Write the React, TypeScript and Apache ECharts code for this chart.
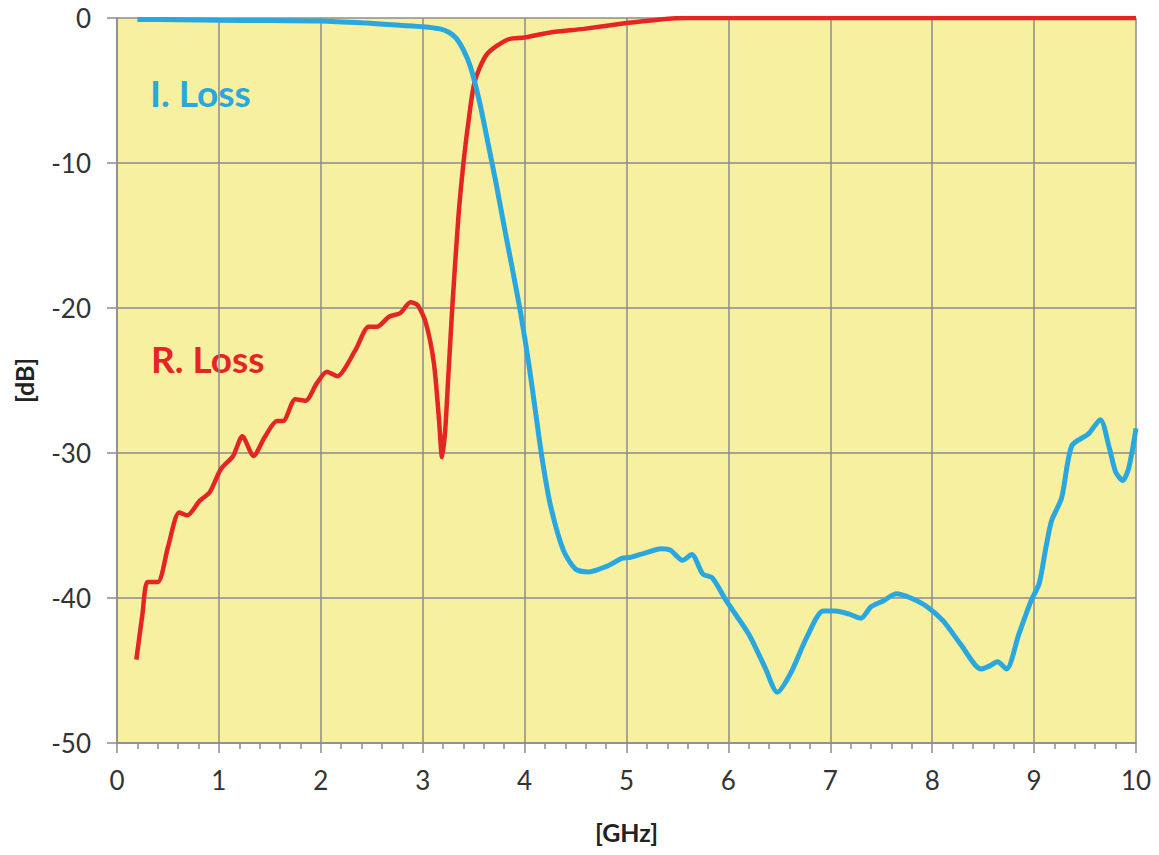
import React, { useEffect, useRef } from "react";
import * as echarts from "echarts";

// Insertion loss (blue)
const iFreq = [0.2, 0.6, 1.0, 1.5, 2.0, 2.45, 2.78, 3.0, 3.17, 3.26, 3.33, 3.4, 3.47, 3.56, 3.64, 3.72, 3.8, 3.88, 3.96, 4.04, 4.11, 4.17, 4.25, 4.38, 4.5, 4.63, 4.81, 4.96, 5.04, 5.18, 5.34, 5.43, 5.55, 5.64, 5.75, 5.84, 5.98, 6.2, 6.36, 6.48, 6.61, 6.77, 6.93, 7.05, 7.18, 7.3, 7.4, 7.52, 7.65, 7.79, 7.95, 8.11, 8.28, 8.48, 8.56, 8.64, 8.73, 8.85, 8.97, 9.05, 9.11, 9.17, 9.27, 9.37, 9.53, 9.65, 9.74, 9.8, 9.87, 9.93, 10.0];
const iLoss = [-0.1, -0.12, -0.15, -0.18, -0.2, -0.35, -0.5, -0.6, -0.75, -1.0, -1.4, -2.2, -3.4, -5.85, -8.6, -11.4, -14.4, -17.3, -20.3, -23.8, -27.3, -30.3, -33.5, -36.7, -38.0, -38.2, -37.8, -37.25, -37.2, -36.9, -36.6, -36.7, -37.4, -37.0, -38.35, -38.6, -40.2, -42.5, -44.8, -46.5, -45.2, -42.7, -40.9, -40.9, -41.1, -41.4, -40.6, -40.2, -39.7, -40.0, -40.6, -41.6, -43.2, -44.9, -44.7, -44.4, -44.9, -42.5, -40.2, -39.0, -36.75, -34.7, -33.1, -29.5, -28.7, -27.7, -29.7, -31.3, -31.9, -31.0, -28.3];

// Return loss (red)
const rFreq = [0.19, 0.25, 0.3, 0.4, 0.5, 0.61, 0.69, 0.81, 0.91, 1.02, 1.14, 1.23, 1.34, 1.45, 1.57, 1.63, 1.75, 1.85, 1.96, 2.06, 2.16, 2.34, 2.47, 2.55, 2.67, 2.78, 2.88, 2.95, 3.03, 3.11, 3.16, 3.19, 3.22, 3.25, 3.29, 3.35, 3.4, 3.45, 3.51, 3.63, 3.83, 4.0, 4.25, 4.58, 5.0, 5.33, 5.6, 6.0, 7.0, 8.0, 9.0, 10.0];
const rLoss = [-44.25, -41.1, -38.9, -38.9, -36.5, -34.1, -34.3, -33.3, -32.7, -31.1, -30.2, -28.85, -30.2, -28.9, -27.8, -27.8, -26.3, -26.4, -25.2, -24.4, -24.7, -22.9, -21.3, -21.3, -20.6, -20.35, -19.6, -19.8, -21.0, -23.8, -27.7, -30.3, -28.5, -24.9, -20.0, -13.75, -10.0, -7.1, -4.4, -2.5, -1.5, -1.35, -1.0, -0.75, -0.35, -0.1, 0, 0, 0, 0, 0, 0];

const xTicks = [0, 10, 1];
const yTicks = [-50, 0, 10];

const FONT = "Lato";
const GRID_COLOR = "#8c8c8c";

export default function App() {
  const ref = useRef<HTMLDivElement>(null);
  useEffect(() => {
    if (!ref.current) return;
    const chart = echarts.init(ref.current, undefined, { renderer: "svg" });
    const iData = iFreq.map((f, i) => [f, iLoss[i]]);
    const rData = rFreq.map((f, i) => [f, rLoss[i]]);
    chart.setOption({
      animation: false,
      backgroundColor: "#ffffff",
      textStyle: { fontFamily: FONT },
      grid: {
        left: 117,
        right: 23,
        top: 18,
        bottom: 112,
        show: true,
        backgroundColor: "#F7F0A0",
        borderWidth: 0,
      },
      xAxis: {
        type: "value",
        min: xTicks[0],
        max: xTicks[1],
        interval: xTicks[2],
        name: "[GHz]",
        nameLocation: "middle",
        nameGap: 76,
        nameTextStyle: { fontFamily: FONT, fontSize: 25, fontWeight: "bold", color: "#222" },
        axisLine: { show: true, onZero: false, lineStyle: { color: GRID_COLOR, width: 1.5 } },
        axisTick: { show: true, length: 10, lineStyle: { color: GRID_COLOR, width: 1.5 } },
        minorTick: { show: true, splitNumber: 5, length: 6, lineStyle: { color: GRID_COLOR, width: 1.5 } },
        axisLabel: { fontFamily: FONT, fontSize: 26, color: "#333", margin: 24 },
        splitLine: { show: true, lineStyle: { color: GRID_COLOR, width: 1.5 } },
      },
      yAxis: {
        type: "value",
        min: yTicks[0],
        max: yTicks[1],
        interval: yTicks[2],
        name: "[dB]",
        nameLocation: "middle",
        nameGap: 81,
        nameTextStyle: { fontFamily: FONT, fontSize: 25, fontWeight: "bold", color: "#222" },
        axisLine: { show: true, lineStyle: { color: GRID_COLOR, width: 1.5 } },
        axisTick: { show: true, length: 10, lineStyle: { color: GRID_COLOR, width: 1.5 } },
        axisLabel: { fontFamily: FONT, fontSize: 26, color: "#333", margin: 26 },
        splitLine: { show: true, lineStyle: { color: GRID_COLOR, width: 1.5 } },
      },
      graphic: [
        {
          type: "text",
          x: 150,
          y: 92,
          style: {
            text: "I. Loss",
            font: `bold 37px ${FONT}`,
            fill: "#2AA7DE",
            verticalAlign: "middle",
          },
        },
        {
          type: "text",
          x: 151,
          y: 358,
          style: {
            text: "R. Loss",
            font: `bold 37px ${FONT}`,
            fill: "#E42524",
            verticalAlign: "middle",
          },
        },
      ],
      series: [
        {
          name: "R. Loss",
          type: "line",
          data: rData,
          showSymbol: false,
          smooth: 0.25,
          lineStyle: { color: "#E42524", width: 4.5 },
          itemStyle: { color: "#E42524" },
          z: 3,
        },
        {
          name: "I. Loss",
          type: "line",
          data: iData,
          showSymbol: false,
          smooth: 0.25,
          lineStyle: { color: "#2AA7DE", width: 5 },
          itemStyle: { color: "#2AA7DE" },
          z: 4,
        },
      ],
    });
    return () => chart.dispose();
  }, []);
  return (
    <div
      ref={ref}
      style={{ position: "fixed", left: 0, top: 0, width: 1159, height: 855 }}
    />
  );
}
